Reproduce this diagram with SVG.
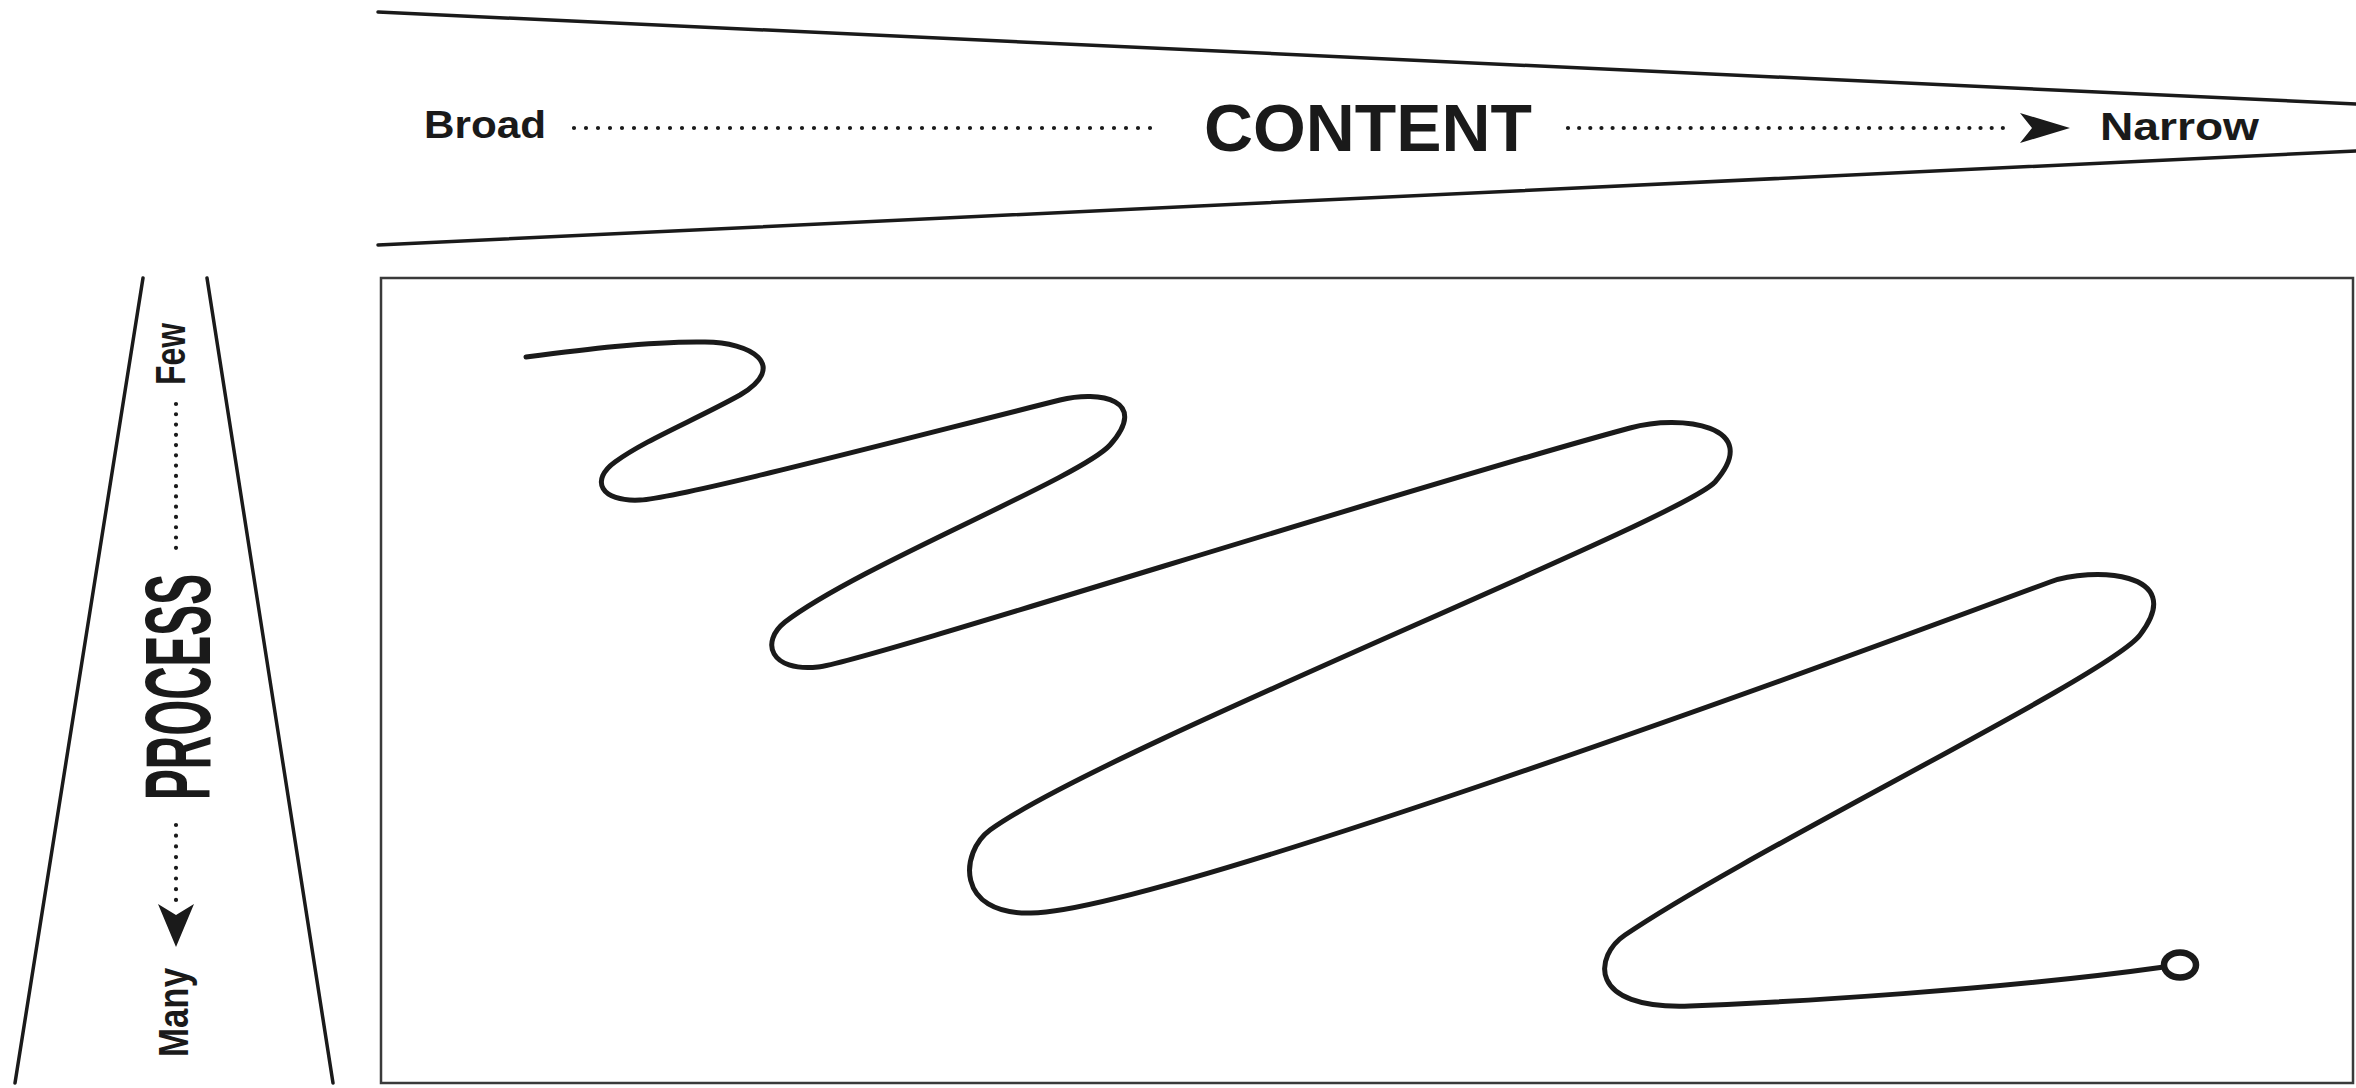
<svg xmlns="http://www.w3.org/2000/svg" width="2356" height="1088" viewBox="0 0 2356 1088">
<style>
.wedge{stroke:#1a1a1a;stroke-width:3.5;fill:none;stroke-linecap:round}
.lbl{font-family:"Liberation Sans",Arial,sans-serif;font-weight:bold;fill:#1a1a1a}
.dots{stroke:#1a1a1a;stroke-width:4.2;stroke-linecap:round;fill:none}
.head{fill:#1a1a1a}
.frame{fill:#fff;stroke:#3a3a3a;stroke-width:2.5}
.squig{fill:none;stroke:#1a1a1a;stroke-width:5;stroke-linecap:round;stroke-linejoin:round}
</style>
<rect width="2356" height="1088" fill="#fff"/>

<g id="content-wedge">
  <line class="wedge" x1="378" y1="12" x2="2356" y2="104"/>
  <line class="wedge" x1="378" y1="245" x2="2356" y2="151"/>
  <text class="lbl" x="424" y="138" font-size="39" textLength="122" lengthAdjust="spacingAndGlyphs">Broad</text>
  <text class="lbl" x="1204" y="151" font-size="67" textLength="328" lengthAdjust="spacingAndGlyphs">CONTENT</text>
  <text class="lbl" x="2100" y="140" font-size="39" textLength="159" lengthAdjust="spacingAndGlyphs">Narrow</text>
</g>

<g id="process-wedge">
  <line class="wedge" x1="143" y1="278" x2="15" y2="1083"/>
  <line class="wedge" x1="207" y1="278" x2="333" y2="1083"/>
  <text class="lbl" transform="translate(185,385) rotate(-90)" font-size="43" textLength="62" lengthAdjust="spacingAndGlyphs">Few</text>
  <text class="lbl" transform="translate(210,800) rotate(-90)" font-size="93" textLength="226" lengthAdjust="spacingAndGlyphs">PROCESS</text>
  <text class="lbl" transform="translate(188,1057) rotate(-90)" font-size="43" textLength="89" lengthAdjust="spacingAndGlyphs">Many</text>
</g>

<g id="connectors">
  <line class="dots" x1="574" y1="128" x2="1162" y2="128" stroke-dasharray="0 12"/>
  <line class="dots" x1="1568" y1="128" x2="2014" y2="128" stroke-dasharray="0 11.15"/>
  <polygon class="head" points="2020,113 2070,128 2020,143 2032,128"/>
  <line class="dots" x1="176" y1="404" x2="176" y2="558" stroke-dasharray="0 10.27"/>
  <line class="dots" x1="176" y1="825" x2="176" y2="900" stroke-dasharray="0 10.7"/>
  <polygon class="head" points="158,904 176,947 194,904 176,915"/>
</g>

<g id="frame">
  <rect class="frame" x="381" y="278" width="1972" height="805"/>
</g>

<g id="path">
  <path class="squig" d="M526,357 C580,350 650,341 705,342 C750,342 790,365 740,395 C695,420 645,440 615,462 C590,480 600,502 640,500 C680,498 900,440 1060,400 C1100,390 1150,400 1110,445 C1080,478 860,565 785,622 C760,642 770,672 818,667 C860,663 1400,490 1630,428 C1680,414 1765,425 1715,482 C1680,520 1100,750 990,830 C960,852 955,915 1031,913 C1150,912 1800,675 2050,582 C2090,567 2190,570 2140,635 C2110,675 1750,850 1625,935 C1595,955 1585,1010 1690,1006 C1790,1002 2000,990 2164,967"/>
  <ellipse cx="2180" cy="965" rx="16" ry="12.5" fill="#fff" stroke="#1a1a1a" stroke-width="6.5"/>
</g>
</svg>
